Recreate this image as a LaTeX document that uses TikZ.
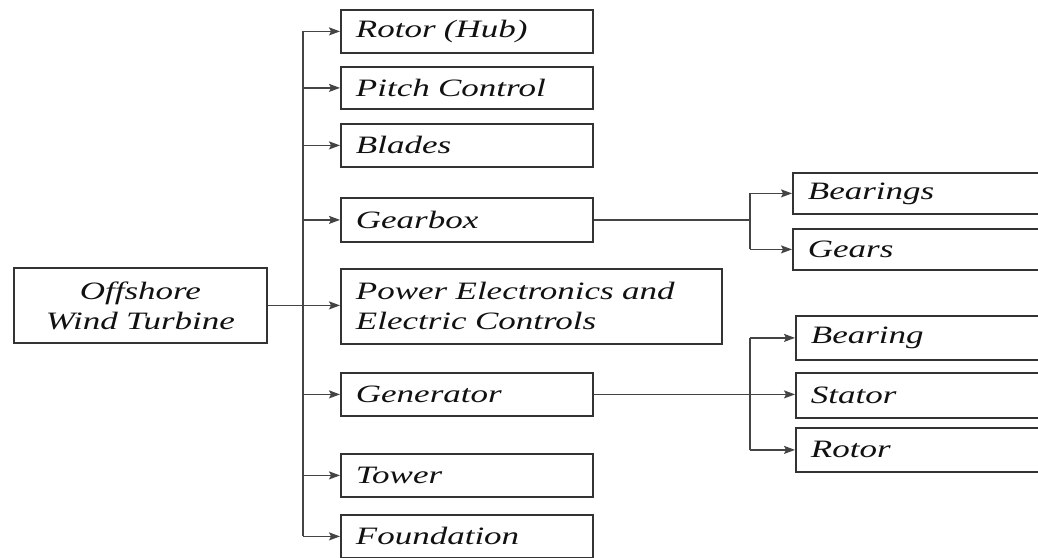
\documentclass[tikz,border=0pt]{standalone}
\usepackage{fontspec}
\newfontfamily\boxfont{Liberation Serif}[FakeStretch=1.4]
\usetikzlibrary{arrows.meta}
\definecolor{boxline}{HTML}{333333}
\definecolor{conn}{HTML}{444444}
\definecolor{txt}{HTML}{111111}
\tikzset{
  box/.style={draw=boxline, line width=1.8pt, rectangle, anchor=north west,
    inner sep=0pt, inner xsep=15pt, align=left, text=txt,
    font=\boxfont\itshape\fontsize{25}{30}\selectfont},
  cbox/.style={box, align=center},
  conn/.style={draw=conn, line width=1.3pt},
  arr/.style={conn, -{Stealth[length=11pt,width=8pt,inset=2pt]}}
}
\newcommand{\bx}[7]{% name, x, y, w, h, style, text
  \node[#6, minimum width=#4pt, minimum height=#5pt, text width=#4pt-30pt] (#1) at (#2pt,-#3pt) {#7};}
\begin{document}
\begin{tikzpicture}[x=1pt,y=1pt]
\useasboundingbox (0,0) rectangle (1038,-557);
\clip (0,0) rectangle (1038,-557);
\fill[white] (0,0) rectangle (1038,-557);
\bx{offshore}{13}{267}{253}{75}{cbox}{Offshore\\Wind Turbine}
\bx{rotorhub}{340}{9}{252}{43}{box}{Rotor (Hub)}
\bx{pitch}{340}{66}{252}{42}{box}{Pitch Control}
\bx{blades}{340}{123}{252}{43}{box}{Blades}
\bx{gearbox}{340}{197}{252}{44}{box}{Gearbox}
\bx{power}{340}{268}{381}{75}{box}{Power Electronics and\\Electric Controls}
\bx{generator}{340}{372}{252}{43}{box}{Generator}
\bx{tower}{340}{453}{252}{43}{box}{Tower}
\bx{foundation}{340}{514}{252}{43}{box}{Foundation}
\bx{bearings}{792}{172}{260}{41}{box}{Bearings}
\bx{gears}{792}{228}{260}{41}{box}{Gears}
\bx{bearing}{795}{315}{257}{44}{box}{Bearing}
\bx{stator}{795}{372}{257}{45}{box}{Stator}
\bx{rotor}{795}{427}{257}{44}{box}{Rotor}
% main trunk
\coordinate (trunk) at (303,0);
\coordinate (gbr) at (750,0);
\draw[conn] (trunk |- rotorhub.west) -- (trunk |- foundation.west);
\draw[arr] (offshore.east) -- (offshore.east -| power.west);
\foreach \n in {rotorhub,pitch,blades,gearbox,generator,tower,foundation}
  \draw[arr] (trunk |- \n.west) -- (\n.west);
% gearbox branch
\draw[conn] (gearbox.east) -- (gbr |- gearbox.east);
\draw[conn] (gbr |- bearings.west) -- (gbr |- gears.west);
\draw[arr] (gbr |- bearings.west) -- (bearings.west);
\draw[arr] (gbr |- gears.west) -- (gears.west);
% generator branch
\draw[arr] (generator.east) -- (generator.east -| stator.west);
\draw[conn] (gbr |- bearing.west) -- (gbr |- rotor.west);
\draw[arr] (gbr |- bearing.west) -- (bearing.west);
\draw[arr] (gbr |- rotor.west) -- (rotor.west);
\end{tikzpicture}
\end{document}
